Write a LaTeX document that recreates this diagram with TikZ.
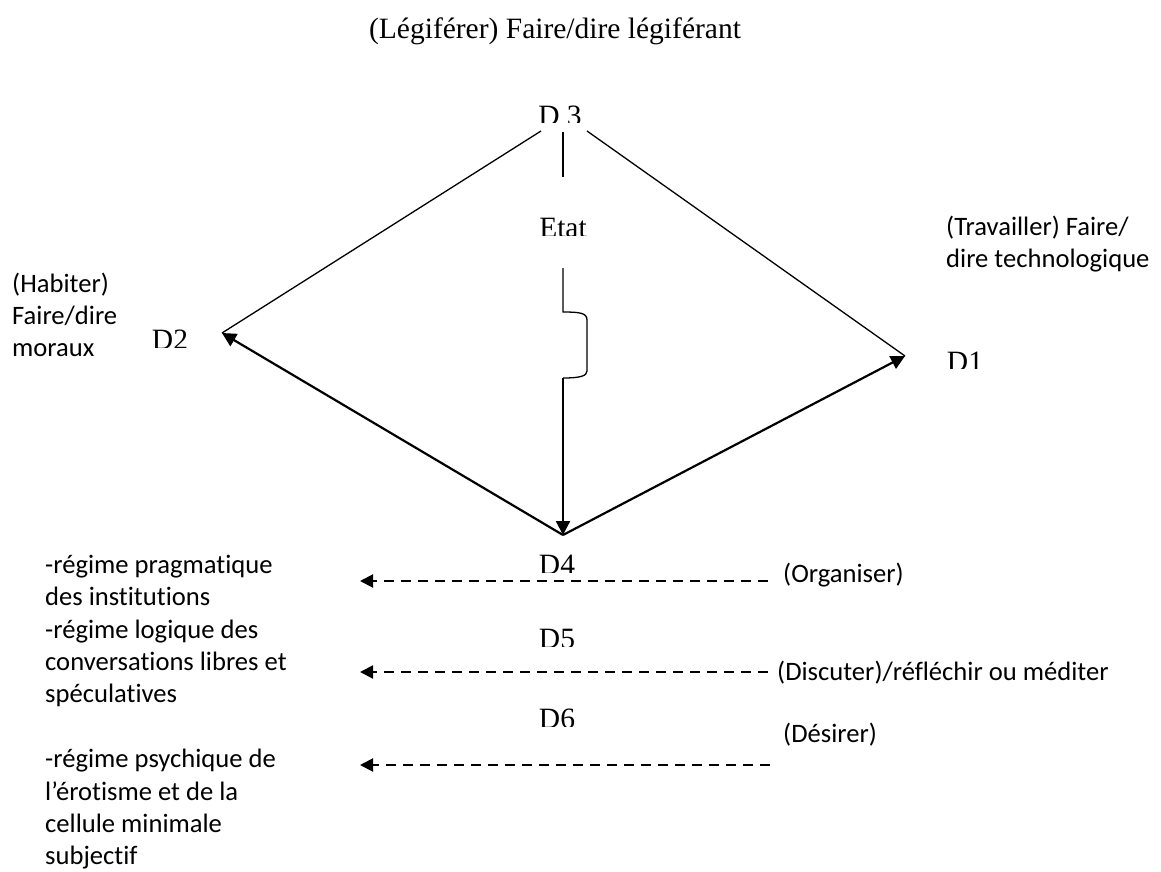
\documentclass[tikz,border=0pt]{standalone}
\usepackage{fontspec}
\setmainfont{Liberation Serif}
\newfontfamily\calfont[Ligatures={NoCommon}]{Carlito}
\usetikzlibrary{arrows.meta}
\begin{document}
\begin{tikzpicture}[x=1pt,y=-1pt,
  caltext/.style={font=\calfont\fontsize{26.6}{32.4}\selectfont, inner sep=0pt, align=left, anchor=north west},
  callab/.style={font=\calfont\fontsize{26.6}{32.4}\selectfont, inner sep=0pt, anchor=base west},
  tmslab/.style={font=\fontsize{29.5}{34}\selectfont, inner sep=0pt, anchor=base},
  thinline/.style={line width=1.3pt},
  thickarrow/.style={line width=2.2pt, -{Triangle[length=14pt,width=14pt]}},
  dasharrow/.style={line width=2pt, dash pattern=on 10pt off 7pt, -{Triangle[length=13pt,width=13pt]}}
]
\useasboundingbox (0,0) rectangle (1161,872);

% vertices
\coordinate (v2) at (222,333);
\coordinate (v1) at (905,356);
\coordinate (v4) at (563,535);
\coordinate (v3l) at (541,131);
\coordinate (v3r) at (587,131);
\coordinate (v3m) at (563,132);
\coordinate (etatb) at (563,177);
\coordinate (etatt) at (563,268);
\coordinate (brt) at (563,312);
\coordinate (brb) at (563,378);

% top label
\node[tmslab] (leg) at (555,39) {(Légiférer) Faire/dire légiférant};

% D labels (clipped at bottom as in the reference)
\begin{scope}\clip (500,90) rectangle (620,123);
\node[tmslab] (d3) at (560,125) {D 3};\end{scope}
\begin{scope}\clip (500,200) rectangle (620,235);
\node[tmslab] (etat) at (563,237) {Etat};\end{scope}
\begin{scope}\clip (120,310) rectangle (215,347);
\node[tmslab] (d2) at (170,349) {D2};\end{scope}
\begin{scope}\clip (920,330) rectangle (1010,368);
\node[tmslab] (d1) at (965,371) {D1};\end{scope}
\begin{scope}\clip (500,540) rectangle (620,572);
\node[tmslab] (d4) at (557,574) {D4};\end{scope}
\begin{scope}\clip (500,610) rectangle (620,646);
\node[tmslab] (d5) at (557,648) {D5};\end{scope}
\begin{scope}\clip (500,690) rectangle (620,726);
\node[tmslab] (d6) at (557,728) {D6};\end{scope}

% side texts
\node[caltext] (hab) at (12,269.2) {\strut(Habiter)\\Faire/dire\\moraux};
\node[caltext] (trav) at (946,212.2) {\strut(Travailler) Faire/\\dire technologique};
\node[caltext] (reg) at (45,550.5) {\strut-régime pragmatique\\des institutions\\-régime logique des\\conversations libres et\\spéculatives\\[32.4pt]-régime psychique de\\l’érotisme et de la\\cellule minimale\\subjectif};
\node[callab] (org) at (783,582) {(Organiser)};
\node[callab] (disc) at (777,680) {(Discuter)/réfléchir ou méditer};
\node[callab] (des) at (783,742) {(Désirer)};

% diamond
\draw[thinline] (v2) -- (v3l);
\draw[thinline] (v3r) -- (v1);
\draw[thickarrow] (v4) -- (v2);
\draw[thickarrow] (v4) -- (v1);

% vertical with brace
\draw[thinline] (v3m) -- (etatb);
\draw[thinline] (etatt) -- (brt) .. controls (580,312) and (587,313) .. (587,320) -- (587,371) .. controls (587,376) and (580,378) .. (brb);
\draw[thickarrow] (brb) -- (v4);

% dashed arrows
\coordinate (a1s) at (768,581); \coordinate (a1e) at (360,581);
\coordinate (a2s) at (768,672); \coordinate (a2e) at (360,672);
\coordinate (a3s) at (770,765); \coordinate (a3e) at (360,765);
\draw[dasharrow] (a1s) -- (a1e);
\draw[dasharrow] (a2s) -- (a2e);
\draw[dasharrow] (a3s) -- (a3e);
\end{tikzpicture}
\end{document}
